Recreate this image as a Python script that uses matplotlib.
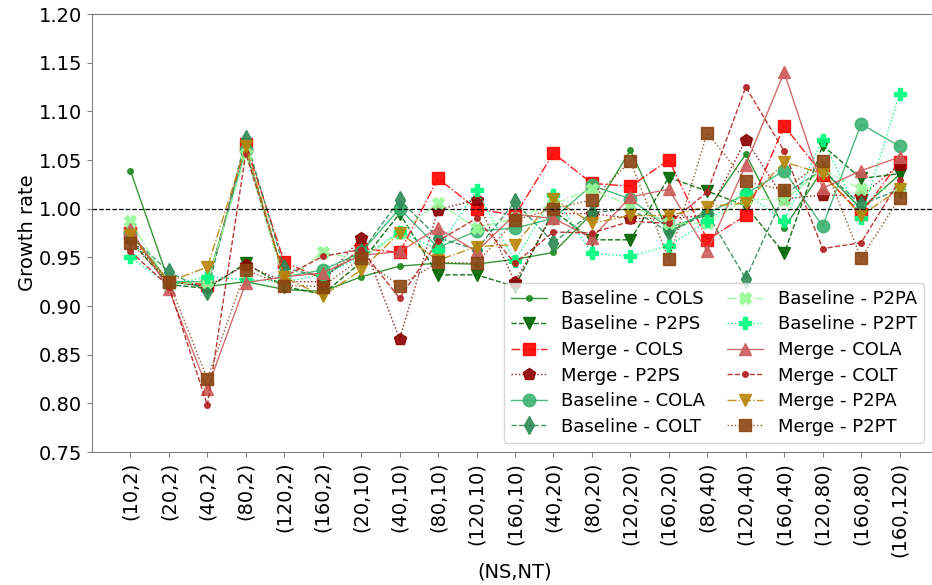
import numpy as np
import matplotlib
matplotlib.use("Agg")
import matplotlib.pyplot as plt

plt.rcParams['font.family'] = ['DejaVu Sans']

# (NS,NT) configurations
labels = ['(10,2)', '(20,2)', '(40,2)', '(80,2)', '(120,2)', '(160,2)', '(20,10)',
          '(40,10)', '(80,10)', '(120,10)', '(160,10)', '(40,20)', '(80,20)',
          '(120,20)', '(160,20)', '(80,40)', '(120,40)', '(160,40)', '(120,80)',
          '(160,80)', '(160,120)']

# growth rate per series
b_cols = [1.039, 0.925, 0.920, 0.925, 0.917, 0.915, 0.930, 0.941, 0.944, 0.943, 0.948,
          0.955, 0.995, 1.060, 0.975, 0.998, 1.056, 0.980, 1.040, 1.000, 1.035]
b_p2ps = [0.968, 0.922, 0.918, 0.944, 0.920, 0.912, 0.945, 0.995, 0.932, 0.932, 0.920,
          0.998, 0.968, 0.968, 1.032, 1.018, 1.003, 0.954, 1.065, 1.031, 1.036]
m_cols = [0.975, 0.925, 0.922, 1.066, 0.945, 0.928, 0.959, 0.955, 1.031, 1.000, 0.993,
          1.057, 1.026, 1.023, 1.050, 0.968, 0.993, 1.085, 1.035, 0.995, 1.048]
m_p2ps = [0.970, 0.925, 0.920, 0.942, 0.925, 0.925, 0.970, 0.866, 0.999, 1.009, 0.925,
          0.995, 0.995, 0.990, 0.990, 0.993, 1.071, 1.010, 1.014, 1.013, 1.045]
b_cola = [0.975, 0.925, 0.925, 1.060, 0.930, 0.937, 0.955, 1.000, 0.960, 0.977, 0.980,
          0.990, 1.024, 1.010, 0.980, 0.995, 1.015, 1.039, 0.982, 1.087, 1.064]
b_colt = [0.972, 0.935, 0.915, 1.072, 0.939, 0.930, 0.955, 1.009, 0.970, 0.958, 1.007,
          0.965, 0.996, 1.000, 0.976, 0.995, 0.928, 1.015, 1.040, 1.004, 1.020]
b_p2pa = [0.987, 0.922, 0.925, 1.056, 0.925, 0.955, 0.948, 0.975, 1.006, 0.980, 0.990,
          1.005, 1.020, 1.003, 0.985, 0.985, 1.010, 1.009, 1.040, 1.020, 1.020]
b_p2pt = [0.950, 0.922, 0.930, 0.927, 0.925, 0.932, 0.950, 0.976, 0.958, 1.019, 0.946,
          1.014, 0.954, 0.951, 0.962, 0.987, 1.016, 0.987, 1.071, 0.990, 1.118]
m_cola = [0.979, 0.917, 0.815, 0.924, 0.930, 0.934, 0.952, 0.956, 0.980, 0.956, 0.994,
          0.990, 0.970, 1.012, 1.020, 0.956, 1.045, 1.140, 1.021, 1.039, 1.053]
m_colt = [0.956, 0.920, 0.798, 1.057, 0.930, 0.951, 0.958, 0.908, 0.967, 0.990, 0.944,
          0.976, 0.975, 0.987, 0.985, 1.017, 1.125, 1.059, 0.959, 0.965, 1.029]
m_p2pa = [0.973, 0.925, 0.940, 1.064, 0.930, 0.910, 0.937, 0.975, 0.947, 0.961, 0.963,
          1.010, 0.985, 0.993, 0.993, 1.002, 1.006, 1.048, 1.036, 0.993, 1.020]
m_p2pt = [0.965, 0.925, 0.825, 0.937, 0.921, 0.920, 0.949, 0.921, 0.945, 0.944, 0.988,
          1.000, 1.009, 1.049, 0.948, 1.078, 1.028, 1.019, 1.049, 0.949, 1.011]

# (label, data, color, linestyle, marker, markersize)
series = [
    ('Baseline - COLS', b_cols, 'forestgreen', '-', 'o', 4),
    ('Baseline - P2PS', b_p2ps, 'darkgreen', '--', 'v', 9),
    ('Merge - COLS', m_cols, 'red', '-.', 's', 9),
    ('Merge - P2PS', m_p2ps, 'darkred', ':', 'p', 9),
    ('Baseline - COLA', b_cola, 'mediumseagreen', '-', 'o', 9),
    ('Baseline - COLT', b_colt, 'seagreen', '--', 'd', 9),
    ('Baseline - P2PA', b_p2pa, 'palegreen', '-.', 'X', 9),
    ('Baseline - P2PT', b_p2pt, 'springgreen', ':', 'P', 9),
    ('Merge - COLA', m_cola, 'indianred', '-', '^', 9),
    ('Merge - COLT', m_colt, 'firebrick', '--', 'o', 4),
    ('Merge - P2PA', m_p2pa, 'darkgoldenrod', '-.', 'v', 9),
    ('Merge - P2PT', m_p2pt, 'saddlebrown', ':', 's', 9),
]

fig = plt.figure(figsize=(9.32, 5.85), dpi=100)
ax = fig.add_axes([92 / 932, 133 / 585, 846 / 932, 438 / 585])

x = np.arange(len(labels))
for name, vals, col, ls, mk, ms in series:
    ax.plot(x, vals, color=col, linestyle=ls, marker=mk, markersize=ms,
            linewidth=1, alpha=0.9, label=name)

ax.axhline(1.0, color='black', linestyle='--', linewidth=0.9)

ax.set_xlim(-1, 21)
ax.set_ylim(0.75, 1.20)
ax.set_yticks(np.arange(0.75, 1.201, 0.05))
ax.set_yticklabels([f'{v:.2f}' for v in np.arange(0.75, 1.201, 0.05)])
ax.set_xticks(x)
ax.set_xticklabels(labels, rotation=90)
ax.tick_params(axis='both', labelsize=14, colors='gray', labelcolor='black')
for s in ax.spines.values():
    s.set_color('gray')

ax.set_ylabel('Growth rate', fontsize=14, labelpad=1)
ax.set_xlabel('(NS,NT)', fontsize=14)

ax.legend(ncol=2, fontsize=13, loc='lower right',
          bbox_to_anchor=(1 - 14 / 846, 9 / 438), borderaxespad=0,
          handlelength=2.0, labelspacing=0.42, columnspacing=1.2)

plt.savefig('out.png', dpi=100)
